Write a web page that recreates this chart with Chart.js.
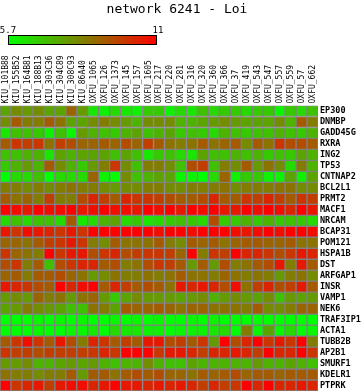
<!DOCTYPE html>
<html lang="en">
<head>
    <meta charset="UTF-8">
    <title>network 6241 - Loi</title>
    <script src="https://cdn.jsdelivr.net/npm/chart.js"></script>
    <style>
        body { margin: 0; background: #fff; }
        #wrap { width: 361px; height: 392px; position: relative; }
    </style>
</head>
<body>
<div id="wrap"><canvas id="heat"></canvas></div>

<script>
    const title = 'network 6241 - Loi';
    const scaleMin = 5.7;
    const scaleMax = 11;

    const samples = ['KIU_101B88', 'KIU_155B52', 'KIU_164B81', 'KIU_188B13', 'KIU_303C36', 'KIU_304C89',
        'KIU_308C93', 'KIU_86A40', 'OXFU_1065', 'OXFU_126', 'OXFU_1373', 'OXFU_145', 'OXFU_157',
        'OXFU_1605', 'OXFU_217', 'OXFU_220', 'OXFU_281', 'OXFU_316', 'OXFU_320', 'OXFU_360', 'OXFU_366',
        'OXFU_37', 'OXFU_419', 'OXFU_543', 'OXFU_547', 'OXFU_557', 'OXFU_559', 'OXFU_57', 'OXFU_662'];

    const genes = ['EP300', 'DNMBP', 'GADD45G', 'RXRA', 'ING2', 'TP53', 'CNTNAP2', 'BCL2L1', 'PRMT2',
        'MACF1', 'NRCAM', 'BCAP31', 'POM121', 'HSPA1B', 'DST', 'ARFGAP1', 'INSR', 'VAMP1', 'NEK6',
        'TRAF3IP1', 'ACTA1', 'TUBB2B', 'AP2B1', 'SMURF1', 'KDELR1', 'PTPRK'];

    // one row per gene, one value per sample
    const values = [
        [7.6,8.1,7.8,8.1,7.6,7.6,8.9,7.8,6.2,6.0,6.5,6.2,6.0,6.8,6.8,6.0,6.5,6.2,7.0,6.5,6.8,6.8,6.5,6.8,6.8,5.9,6.8,6.5,7.0],
        [8.1,9.1,8.4,8.4,9.1,8.6,7.6,7.6,8.1,8.4,8.1,7.8,7.3,8.1,8.1,8.1,7.3,7.3,7.6,7.8,8.1,7.8,7.6,7.6,7.6,8.1,7.3,9.1,8.4],
        [6.2,7.0,7.0,6.8,6.0,7.0,5.9,7.8,7.3,7.0,6.8,7.3,7.6,7.0,7.3,7.6,6.8,7.0,6.8,6.5,7.3,7.0,6.8,7.0,7.0,7.3,7.0,6.8,7.3],
        [9.1,9.9,9.7,9.9,8.6,9.7,9.4,8.9,8.9,9.1,8.9,9.4,8.9,9.7,9.1,8.6,8.4,8.6,9.1,8.6,8.9,9.1,8.1,9.1,8.6,9.9,9.4,9.4,9.1],
        [7.0,7.0,7.3,7.3,6.2,7.6,7.3,7.6,7.6,7.6,7.0,7.6,7.0,6.2,6.8,7.0,6.5,6.2,7.6,7.0,7.0,7.3,7.0,7.3,6.8,7.0,6.8,7.6,7.3],
        [6.8,7.3,7.8,7.3,9.1,8.1,7.3,6.8,7.8,8.4,9.9,8.1,7.0,8.4,8.4,8.1,7.0,9.4,9.7,7.0,8.4,8.1,9.1,7.8,8.6,8.1,6.5,8.4,7.3],
        [5.7,6.5,6.5,7.0,5.7,6.5,6.5,6.5,8.9,6.0,5.7,8.1,7.0,7.3,7.6,7.6,5.9,5.9,5.7,6.5,8.9,6.0,6.8,6.8,6.0,6.0,7.6,6.0,7.6],
        [8.4,8.4,8.1,8.4,8.1,8.4,8.6,8.4,8.4,8.1,7.8,8.1,8.1,8.4,8.4,8.1,8.1,8.4,8.4,8.4,8.6,8.1,8.4,8.4,8.4,8.6,8.6,8.1,8.1],
        [9.1,8.6,8.9,8.4,9.7,8.4,8.4,9.4,10.2,9.7,9.1,10.2,9.9,9.9,9.7,9.4,9.1,9.1,9.4,10.2,9.1,9.1,9.9,9.7,10.2,9.7,9.1,9.9,9.7],
        [11,10.7,10.5,11,10.7,10.7,11,10.5,10.7,11,10.7,10.7,10.5,11,10.7,11,10.5,11,10.7,11,10.5,10.5,11,10.7,11,10.7,10.2,11,10.5],
        [6.5,7.0,6.5,7.0,7.0,6.5,9.1,6.2,6.5,7.3,7.6,6.5,6.8,6.2,6.5,6.8,7.0,6.8,6.5,9.4,6.8,6.8,7.3,6.8,7.3,6.8,7.0,6.8,6.5],
        [10.5,9.9,10.7,10.5,10.2,9.9,10.5,9.9,11,11,11,11,11,11,10.7,11,11,10.7,11,11,11,10.7,10.5,10.7,11,10.7,11,11,10.7],
        [8.9,8.9,8.6,9.1,9.7,9.9,10.5,9.9,8.4,8.1,9.1,8.6,8.6,8.6,9.1,8.4,8.1,9.1,8.9,9.1,8.6,8.9,9.1,9.1,8.9,8.9,9.1,8.6,8.6],
        [9.9,8.9,8.6,8.4,11,9.9,10.5,10.5,9.4,9.9,10.2,9.4,9.7,9.9,9.9,9.7,8.9,11,8.4,9.9,9.7,11,10.2,10.2,9.9,9.4,9.9,10.5,10.2],
        [9.4,9.9,8.4,9.1,7.0,9.4,9.9,10.2,10.2,9.1,9.4,8.4,8.6,9.4,9.9,9.7,9.1,7.8,9.1,7.8,9.4,8.4,8.6,9.1,9.4,10.5,8.4,10.5,9.1],
        [8.9,9.1,8.4,9.1,9.1,9.4,8.9,8.6,7.8,8.1,8.6,8.4,8.4,8.6,8.4,8.6,9.1,8.6,8.6,8.4,8.9,8.6,8.4,8.6,8.4,7.8,8.4,8.6,8.1],
        [10.5,10.2,9.9,9.4,9.1,11,10.2,10.7,11,9.1,10.2,9.7,9.1,9.4,9.1,8.6,10.5,10.2,10.5,10.2,9.4,10.7,8.6,9.7,10.2,9.4,9.7,10.5,9.1],
        [7.8,8.1,7.8,8.9,8.4,8.6,7.8,8.6,8.9,7.8,6.8,7.6,8.1,7.8,7.8,7.8,7.6,7.8,8.1,7.3,7.8,8.1,7.8,7.6,8.1,7.0,7.8,7.6,7.8],
        [7.6,7.8,8.4,8.1,7.8,7.6,7.0,7.0,8.6,8.4,7.6,9.1,8.9,8.9,9.1,8.9,8.6,8.9,8.9,8.6,8.6,8.6,8.4,9.1,8.1,8.1,8.4,8.9,8.9],
        [5.7,5.7,5.7,5.9,5.7,5.9,5.7,5.9,5.7,5.7,5.9,5.7,5.9,5.7,5.9,5.7,5.7,5.9,5.7,6.0,5.7,5.7,5.7,5.7,5.7,5.7,5.7,5.7,5.7],
        [5.7,5.7,5.7,5.9,5.7,5.7,5.9,5.9,6.2,5.7,6.5,6.2,6.2,6.0,6.0,5.7,5.9,6.0,6.0,6.2,6.5,5.7,8.4,5.9,7.6,5.9,6.5,5.7,5.9],
        [9.1,9.9,10.7,9.9,9.1,10.5,9.4,8.4,10.2,9.9,9.1,9.7,9.1,10.5,10.5,9.4,9.7,9.1,9.9,7.8,11,9.4,10.2,11,9.9,10.5,9.9,11,8.4],
        [9.9,9.7,9.7,9.4,9.7,9.7,9.7,9.7,9.9,10.2,9.9,11,11,11,9.9,10.5,10.5,10.2,9.7,10.2,10.2,10.5,10.2,9.7,11,10.2,10.2,11,9.9],
        [7.8,7.8,8.1,7.3,7.3,7.6,7.8,7.6,7.8,7.3,7.0,7.3,7.3,8.1,7.3,7.0,7.0,7.6,7.3,7.3,7.3,7.3,7.3,7.8,7.3,7.3,7.6,7.3,7.0],
        [8.6,8.4,8.4,8.1,8.4,8.4,9.1,7.8,9.1,9.1,8.6,9.1,9.4,9.1,9.4,8.9,8.9,8.6,9.1,8.9,9.1,9.4,8.9,9.1,9.1,8.9,9.1,9.1,9.1],
        [11,9.9,10.2,10.5,9.7,10.5,10.7,10.7,10.2,10.5,11,10.5,10.5,10.2,10.5,10.2,10.5,10.2,9.7,10.2,9.7,9.9,11,10.2,11,10.2,10.2,10.5,10.2]
    ];

    // green -> red through olive
    function heatColor(v) {
        let t = (v - scaleMin) / (scaleMax - scaleMin);
        t = Math.max(0, Math.min(1, t));
        return 'rgb(' + Math.round(255 * t) + ',' + Math.round(255 * (1 - t)) + ',0)';
    }

    // each gene row is a set of floating bars spanning one y unit
    const datasets = genes.map(function (g, i) {
        return {
            label: g,
            data: samples.map(function () { return [i - 0.5, i + 0.5]; }),
            backgroundColor: values[i].map(heatColor),
            borderColor: '#808080',
            borderWidth: 1,
            borderSkipped: false,
            barPercentage: 1,
            categoryPercentage: 1,
            grouped: false
        };
    });

    // title and colour key above the column labels
    const headerPlugin = {
        id: 'header',
        afterDraw: function (chart) {
            const ctx = chart.ctx;
            ctx.save();
            ctx.fillStyle = '#000';
            ctx.textAlign = 'center';
            ctx.textBaseline = 'alphabetic';
            ctx.font = '13px "DejaVu Sans Mono"';
            ctx.fillText(title, 177, 13);

            const x0 = 8, x1 = 157, y0 = 35, h = 9;
            const grad = ctx.createLinearGradient(x0, 0, x1, 0);
            grad.addColorStop(0, heatColor(scaleMin));
            grad.addColorStop(1, heatColor(scaleMax));
            ctx.fillStyle = grad;
            ctx.fillRect(x0, y0, x1 - x0, h);
            ctx.strokeStyle = '#000';
            ctx.lineWidth = 1;
            ctx.strokeRect(x0 + 0.5, y0 + 0.5, x1 - x0 - 1, h);

            ctx.fillStyle = '#000';
            ctx.font = '9px "DejaVu Sans Mono"';
            ctx.fillText(String(scaleMin), x0, 33);
            ctx.fillText(String(scaleMax), x1 + 1, 33);
            ctx.restore();
        }
    };

    new Chart(document.getElementById('heat'), {
        type: 'bar',
        data: { labels: samples, datasets: datasets },
        options: {
            responsive: true,
            maintainAspectRatio: false,
            devicePixelRatio: 1,
            animation: false,
            layout: { padding: { left: 0, right: 0, top: 0, bottom: 1 } },
            plugins: {
                legend: { display: false },
                tooltip: { enabled: false }
            },
            scales: {
                x: {
                    type: 'category',
                    position: 'top',
                    offset: true,
                    grid: { display: false, drawTicks: false },
                    border: { display: false },
                    ticks: {
                        autoSkip: false,
                        minRotation: 90,
                        maxRotation: 90,
                        padding: 2,
                        labelOffset: 10,
                        color: '#000',
                        font: { family: '"DejaVu Sans Mono"', size: 8 }
                    },
                    afterFit: function (axis) {
                        axis.height = 105.5;
                        axis.paddingLeft = 0;
                        axis.paddingRight = 0;
                    }
                },
                y: {
                    type: 'linear',
                    position: 'right',
                    reverse: true,
                    min: -0.5,
                    max: 25.5,
                    grid: { display: false, drawTicks: false },
                    border: { display: false },
                    afterBuildTicks: function (axis) {
                        axis.ticks = genes.map(function (g, i) { return { value: i }; });
                    },
                    ticks: {
                        autoSkip: false,
                        padding: 2,
                        color: '#000',
                        font: { family: '"DejaVu Sans Mono"', size: 8.5, weight: 'bold' },
                        callback: function (v) { return genes[v]; }
                    },
                    afterFit: function (axis) {
                        axis.width = 43;
                        axis.paddingTop = 0;
                        axis.paddingBottom = 0;
                    }
                }
            }
        },
        plugins: [headerPlugin]
    });
</script>
</body>
</html>
